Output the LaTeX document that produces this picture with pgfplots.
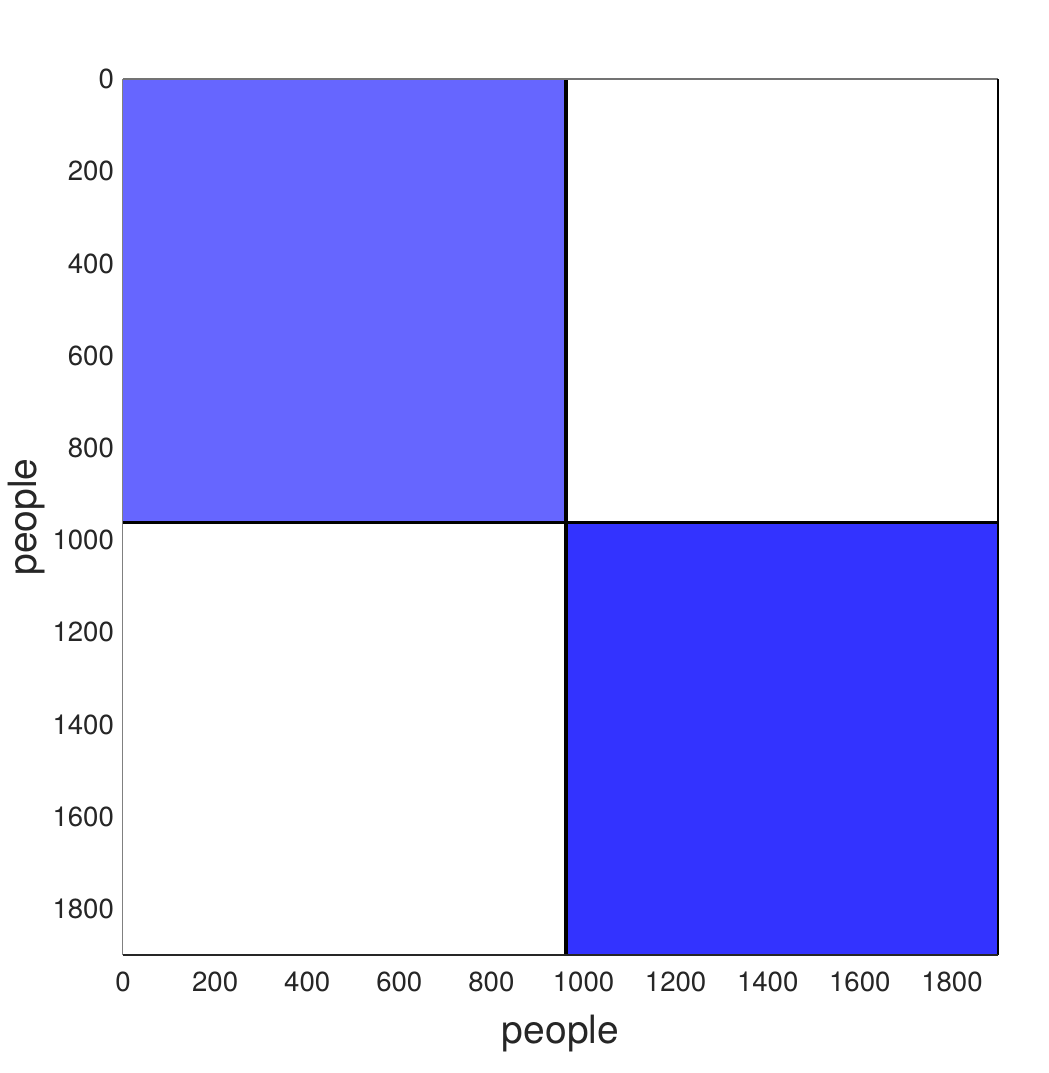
\documentclass[border=0pt]{standalone}
\usepackage{fontspec}
\setmainfont{TeX Gyre Heros}
\usepackage{pgfplots}
\pgfplotsset{compat=1.18}
\definecolor{lightblk}{HTML}{6666FF}
\definecolor{darkblk}{HTML}{3333FF}
\definecolor{txt}{HTML}{262626}
\begin{document}
\begin{tikzpicture}
\path[use as bounding box] (-61.5pt,-59pt) rectangle (463pt,477.5pt);
\begin{axis}[
  scale only axis,
  width=437.5pt, height=438pt,
  xmin=0, xmax=1900, ymin=0, ymax=1900,
  y dir=reverse,
  axis line style={draw=none},
  xtick={0,200,...,1800}, ytick={0,200,...,1800},
  major tick length=0pt,
  tick label style={font=\fontsize{13.8}{16}\selectfont, text=txt},
  /pgf/number format/assume math mode=true,
  /pgf/number format/1000 sep={},
  xticklabel style={yshift=-5pt},
  yticklabel style={xshift=-1pt},
  xlabel={people}, ylabel={people},
  label style={font=\fontsize{19.5}{22}\selectfont, text=txt},
  xlabel style={yshift=-4.5pt},
  ylabel style={yshift=-3pt},
  clip=false,
]
\addplot[fill=lightblk, draw=none] coordinates {(0,0) (962,0) (962,962) (0,962) (0,0)};
\addplot[fill=darkblk, draw=none] coordinates {(962,962) (1900,962) (1900,1900) (962,1900) (962,962)};
\addplot[black, line width=1.9pt] coordinates {(962,0) (962,1900)};
\addplot[black, line width=1.9pt] coordinates {(0,962) (1900,962)};
\draw[gray, line width=0.5pt] (rel axis cs:0,0) -- (rel axis cs:0,1);
\draw[gray!90!black, line width=0.6pt] (rel axis cs:0,1) -- (rel axis cs:1,1);
\draw[black, line width=0.6pt] (rel axis cs:1,1) -- (rel axis cs:1,0);
\draw[txt, line width=0.6pt] (rel axis cs:0,0) -- (rel axis cs:1,0);
\end{axis}
\end{tikzpicture}
\end{document}
